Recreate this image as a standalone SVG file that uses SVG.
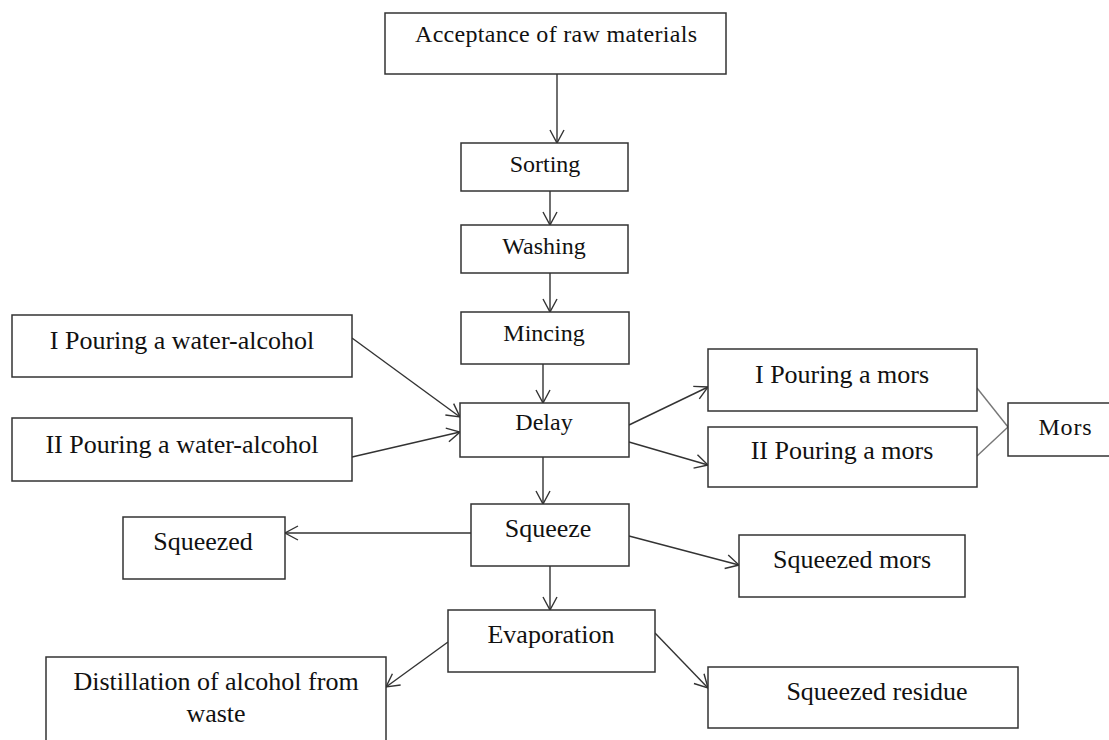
<svg xmlns="http://www.w3.org/2000/svg" width="1109" height="740" viewBox="0 0 1109 740">
<style>
.box{fill:#fff;stroke:#333;stroke-width:1.5}
.t{font-family:"Liberation Serif","Times New Roman",serif;font-size:24px;fill:#111;text-anchor:middle}
.t26{font-size:26px}
.c{fill:none;stroke:#333;stroke-width:1.4}
.g{fill:none;stroke:#777;stroke-width:1.4}
</style>
<defs>
<marker id="arr" markerUnits="userSpaceOnUse" markerWidth="20" markerHeight="20" viewBox="-15 -10 20 20" refX="0" refY="0" orient="auto">
<path d="M-13,-7 L0,0 L-13,7" fill="none" stroke="#333" stroke-width="1.4"/>
</marker>
</defs>
<rect width="1109" height="740" fill="#fff"/>
<g id="connectors">
<line class="c" x1="557" y1="74" x2="557" y2="143" marker-end="url(#arr)"/>
<line class="c" x1="550" y1="191" x2="550" y2="225" marker-end="url(#arr)"/>
<line class="c" x1="550" y1="273" x2="550" y2="312" marker-end="url(#arr)"/>
<line class="c" x1="543" y1="364" x2="543" y2="403" marker-end="url(#arr)"/>
<line class="c" x1="352" y1="338" x2="460" y2="417" marker-end="url(#arr)"/>
<line class="c" x1="352" y1="457" x2="460" y2="432" marker-end="url(#arr)"/>
<line class="c" x1="629" y1="425" x2="708" y2="387" marker-end="url(#arr)"/>
<line class="c" x1="629" y1="442" x2="708" y2="465" marker-end="url(#arr)"/>
<line class="g" x1="977" y1="388" x2="1008" y2="427"/>
<line class="g" x1="977" y1="456" x2="1008" y2="427"/>
<line class="c" x1="543" y1="457" x2="543" y2="504" marker-end="url(#arr)"/>
<line class="c" x1="471" y1="533" x2="285" y2="533" marker-end="url(#arr)"/>
<line class="c" x1="629" y1="536" x2="739" y2="565" marker-end="url(#arr)"/>
<line class="c" x1="550" y1="566" x2="550" y2="610" marker-end="url(#arr)"/>
<line class="c" x1="448" y1="642" x2="386" y2="687" marker-end="url(#arr)"/>
<line class="c" x1="655" y1="633" x2="708" y2="688" marker-end="url(#arr)"/>
</g>
<g id="acceptance"><rect class="box" x="385" y="13" width="341" height="61"/><text class="t" x="556" y="42" textLength="282" lengthAdjust="spacing">Acceptance of raw materials</text></g>
<g id="sorting"><rect class="box" x="461" y="143" width="167" height="48"/><text class="t" x="545" y="172">Sorting</text></g>
<g id="washing"><rect class="box" x="461" y="225" width="167" height="48"/><text class="t" x="544" y="254">Washing</text></g>
<g id="mincing"><rect class="box" x="461" y="312" width="168" height="52"/><text class="t" x="544" y="341">Mincing</text></g>
<g id="delay"><rect class="box" x="460" y="403" width="169" height="54"/><text class="t" x="544" y="430">Delay</text></g>
<g id="water1"><rect class="box" x="12" y="315" width="340" height="62"/><text class="t t26" x="182" y="349">I Pouring a water-alcohol</text></g>
<g id="water2"><rect class="box" x="12" y="418" width="340" height="63"/><text class="t t26" x="182" y="453">II Pouring a water-alcohol</text></g>
<g id="mors1"><rect class="box" x="708" y="349" width="269" height="62"/><text class="t t26" x="842" y="383">I Pouring a mors</text></g>
<g id="mors2"><rect class="box" x="708" y="427" width="269" height="60"/><text class="t t26" x="842" y="459">II Pouring a mors</text></g>
<g id="mors"><rect class="box" x="1008" y="403" width="110" height="53"/><text class="t" x="1065" y="435" textLength="53">Mors</text></g>
<g id="squeeze"><rect class="box" x="471" y="504" width="158" height="62"/><text class="t t26" x="548" y="537">Squeeze</text></g>
<g id="squeezed"><rect class="box" x="123" y="517" width="162" height="62"/><text class="t t26" x="203" y="550">Squeezed</text></g>
<g id="squeezed-mors"><rect class="box" x="739" y="535" width="226" height="62"/><text class="t t26" x="852" y="568">Squeezed mors</text></g>
<g id="evaporation"><rect class="box" x="448" y="610" width="207" height="62"/><text class="t t26" x="551" y="643">Evaporation</text></g>
<g id="distillation"><rect class="box" x="46" y="657" width="340" height="100"/><text class="t t26" x="216" y="690">Distillation of alcohol from</text><text class="t t26" x="216" y="722">waste</text></g>
<g id="residue"><rect class="box" x="708" y="667" width="310" height="61"/><text class="t t26" x="877" y="700">Squeezed residue</text></g>
</svg>
